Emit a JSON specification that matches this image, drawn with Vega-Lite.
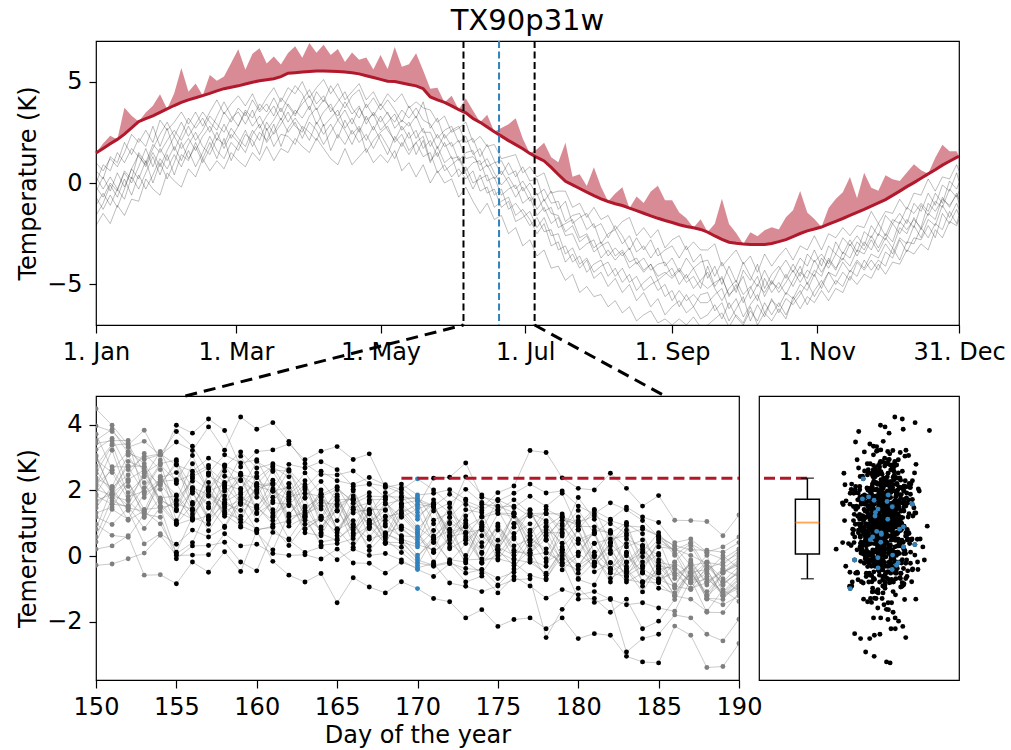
{
"$schema":"https://vega.github.io/schema/vega-lite/v6.json",
"background":"white",
"padding":{"left":16,"top":6,"right":0,"bottom":0},
"config":{
"font":"DejaVu Sans",
"view":{"stroke":"black","strokeWidth":1.2},
"axis":{"domain":false,"grid":false,"tickColor":"black","tickWidth":1.2,"labelFont":"DejaVu Sans","labelFontSize":24,"labelColor":"black","labelPadding":7,"labelFlush":false,"labelOverlap":false,"titleFont":"DejaVu Sans","titleFontSize":24,"titleFontWeight":"normal","titleColor":"black"},
"axisX":{"tickSize":8,"titlePadding":4},
"axisY":{"tickSize":7,"titlePadding":6}
},
"datasets":{
"top":[
{"day":0,"T":1.48,"H":1.48,"a":1.0,"b":-0.4,"c":0.3,"d":-1.1,"e":0.0,"f":-1.6,"g":0.6,"h":-0.7,"i":-2.1,"j":-0.2},
{"day":3,"T":1.70,"H":1.95,"a":0.6,"b":0.3,"c":-0.3,"d":-0.5,"e":0.9,"f":-1.0,"g":0.2,"h":-1.3,"i":-1.5,"j":-0.7},
{"day":6,"T":1.93,"H":2.33,"a":1.2,"b":-0.4,"c":0.3,"d":-1.1,"e":0.6,"f":-0.1,"g":1.3,"h":-0.6,"i":-2.0,"j":0.0},
{"day":9,"T":2.15,"H":2.15,"a":0.8,"b":0.5,"c":-0.3,"d":-0.3,"e":1.5,"f":-0.7,"g":1.0,"h":-1.2,"i":-1.1,"j":-0.4},
{"day":12,"T":2.41,"H":3.71,"a":1.5,"b":-0.2,"c":0.5,"d":-0.8,"e":1.0,"f":0.2,"g":2.0,"h":-0.3,"i":-1.6,"j":0.6},
{"day":15,"T":2.72,"H":3.32,"a":2.4,"b":0.7,"c":0.0,"d":0.3,"e":1.7,"f":-0.6,"g":1.4,"h":0.7,"i":-0.8,"j":0.2},
{"day":18,"T":3.03,"H":3.03,"a":2.0,"b":1.4,"c":0.8,"d":-0.3,"e":1.3,"f":0.4,"g":2.2,"h":0.2,"i":-0.9,"j":1.5},
{"day":21,"T":3.17,"H":3.47,"a":2.6,"b":0.8,"c":1.7,"d":0.5,"e":0.9,"f":-0.3,"g":1.8,"h":1.1,"i":0.2,"j":1.0},
{"day":24,"T":3.31,"H":3.81,"a":2.0,"b":1.5,"c":0.8,"d":1.3,"e":1.7,"f":0.4,"g":2.8,"h":0.0,"i":-0.3,"j":1.9},
{"day":27,"T":3.48,"H":4.38,"a":3.1,"b":0.8,"c":1.7,"d":0.4,"e":2.4,"f":1.2,"g":1.8,"h":1.0,"i":-0.6,"j":1.5},
{"day":30,"T":3.65,"H":3.65,"a":2.6,"b":1.6,"c":1.1,"d":1.4,"e":3.0,"f":0.7,"g":2.7,"h":0.2,"i":0.5,"j":2.1},
{"day":33,"T":3.82,"H":4.42,"a":3.0,"b":2.3,"c":1.8,"d":0.4,"e":2.3,"f":1.4,"g":1.6,"h":1.0,"i":0.1,"j":2.6},
{"day":36,"T":3.97,"H":5.67,"a":3.5,"b":1.7,"c":1.1,"d":1.4,"e":3.0,"f":0.8,"g":2.4,"h":2.0,"i":-0.2,"j":2.1},
{"day":39,"T":4.10,"H":4.50,"a":2.9,"b":2.2,"c":1.9,"d":1.1,"e":2.3,"f":1.6,"g":3.2,"h":1.2,"i":0.7,"j":2.8},
{"day":42,"T":4.20,"H":4.90,"a":3.5,"b":1.6,"c":2.5,"d":2.0,"e":2.9,"f":0.8,"g":2.7,"h":1.8,"i":0.3,"j":2.1},
{"day":45,"T":4.31,"H":4.31,"a":2.8,"b":2.3,"c":1.8,"d":1.2,"e":3.5,"f":1.5,"g":3.2,"h":1.0,"i":1.2,"j":2.6},
{"day":48,"T":4.42,"H":5.32,"a":3.5,"b":2.8,"c":1.4,"d":2.0,"e":3.0,"f":2.3,"g":2.5,"h":1.7,"i":0.6,"j":3.3},
{"day":51,"T":4.54,"H":5.04,"a":4.1,"b":2.1,"c":2.2,"d":1.2,"e":2.6,"f":1.6,"g":3.3,"h":2.5,"i":1.1,"j":2.9},
{"day":54,"T":4.65,"H":5.25,"a":3.4,"b":2.9,"c":1.9,"d":2.2,"e":3.5,"f":1.2,"g":4.0,"h":1.7,"i":0.7,"j":2.5},
{"day":57,"T":4.72,"H":5.92,"a":3.9,"b":2.2,"c":2.7,"d":1.1,"e":3.0,"f":2.0,"g":3.3,"h":2.4,"i":1.5,"j":3.2},
{"day":60,"T":4.79,"H":6.59,"a":4.3,"b":2.8,"c":2.2,"d":1.9,"e":3.7,"f":1.6,"g":2.8,"h":2.0,"i":1.1,"j":3.5},
{"day":63,"T":4.88,"H":5.58,"a":3.8,"b":3.5,"c":1.8,"d":2.6,"e":3.3,"f":2.4,"g":3.6,"h":1.5,"i":0.8,"j":2.9},
{"day":66,"T":4.97,"H":6.37,"a":4.4,"b":2.8,"c":2.6,"d":1.8,"e":4.1,"f":2.1,"g":3.2,"h":2.4,"i":1.5,"j":3.6},
{"day":69,"T":5.04,"H":6.64,"a":3.6,"b":3.3,"c":2.1,"d":2.5,"e":3.5,"f":1.4,"g":3.9,"h":2.9,"i":1.1,"j":2.7},
{"day":72,"T":5.09,"H":5.89,"a":4.2,"b":2.6,"c":3.0,"d":2.1,"e":3.9,"f":2.7,"g":3.5,"h":2.0,"i":1.8,"j":3.3},
{"day":75,"T":5.14,"H":6.24,"a":4.7,"b":3.1,"c":2.4,"d":2.9,"e":3.3,"f":1.8,"g":4.2,"h":2.5,"i":1.1,"j":3.8},
{"day":78,"T":5.24,"H":5.84,"a":4.0,"b":3.7,"c":2.9,"d":1.8,"e":4.2,"f":2.4,"g":3.5,"h":3.2,"i":1.7,"j":3.1},
{"day":81,"T":5.41,"H":6.41,"a":4.7,"b":3.0,"c":3.5,"d":2.7,"e":3.8,"f":2.3,"g":4.2,"h":2.5,"i":1.5,"j":3.9},
{"day":84,"T":5.44,"H":6.74,"a":4.4,"b":3.6,"c":2.8,"d":3.2,"e":3.3,"f":1.9,"g":4.8,"h":3.0,"i":2.2,"j":3.4},
{"day":87,"T":5.47,"H":6.17,"a":5.0,"b":3.2,"c":2.5,"d":2.7,"e":4.1,"f":2.8,"g":4.4,"h":2.2,"i":1.8,"j":3.9},
{"day":90,"T":5.50,"H":6.90,"a":4.2,"b":3.8,"c":3.3,"d":2.1,"e":4.6,"f":2.5,"g":3.6,"h":3.0,"i":1.5,"j":4.3},
{"day":93,"T":5.52,"H":6.42,"a":4.7,"b":2.9,"c":3.7,"d":3.0,"e":3.9,"f":2.1,"g":4.5,"h":2.6,"i":2.2,"j":3.6},
{"day":96,"T":5.52,"H":6.82,"a":5.1,"b":3.5,"c":2.8,"d":2.4,"e":4.3,"f":2.9,"g":4.0,"h":1.9,"i":1.7,"j":4.1},
{"day":99,"T":5.51,"H":6.31,"a":4.4,"b":3.9,"c":3.2,"d":2.9,"e":3.5,"f":1.6,"g":4.8,"h":2.5,"i":1.2,"j":3.7},
{"day":102,"T":5.50,"H":6.60,"a":4.9,"b":3.1,"c":3.6,"d":2.2,"e":4.0,"f":2.4,"g":4.2,"h":3.1,"i":0.9,"j":3.3},
{"day":105,"T":5.47,"H":5.97,"a":4.1,"b":3.6,"c":2.7,"d":3.1,"e":4.5,"f":1.9,"g":3.7,"h":2.6,"i":1.7,"j":4.0},
{"day":108,"T":5.43,"H":6.43,"a":4.5,"b":2.9,"c":3.2,"d":2.4,"e":3.7,"f":2.6,"g":4.3,"h":1.9,"i":0.9,"j":3.4},
{"day":111,"T":5.38,"H":6.08,"a":4.9,"b":3.7,"c":2.5,"d":2.8,"e":3.2,"f":2.0,"g":4.6,"h":2.7,"i":1.3,"j":3.8},
{"day":114,"T":5.29,"H":6.19,"a":4.1,"b":3.1,"c":3.3,"d":2.1,"e":3.9,"f":2.4,"g":3.7,"h":1.5,"i":1.7,"j":2.9},
{"day":117,"T":5.20,"H":5.60,"a":4.5,"b":3.4,"c":2.6,"d":2.8,"e":3.3,"f":1.7,"g":4.2,"h":2.1,"i":1.0,"j":3.5},
{"day":120,"T":5.11,"H":6.31,"a":3.8,"b":2.6,"c":3.3,"d":2.1,"e":3.9,"f":2.4,"g":3.6,"h":2.5,"i":1.4,"j":3.0},
{"day":123,"T":5.02,"H":5.62,"a":4.4,"b":3.0,"c":2.6,"d":1.4,"e":3.4,"f":1.8,"g":4.1,"h":2.8,"i":1.0,"j":3.5},
{"day":126,"T":5.00,"H":6.70,"a":4.0,"b":3.4,"c":2.1,"d":2.3,"e":3.0,"f":1.2,"g":3.6,"h":2.0,"i":1.6,"j":2.7},
{"day":129,"T":4.93,"H":5.73,"a":4.4,"b":2.6,"c":2.8,"d":1.8,"e":3.6,"f":2.0,"g":3.0,"h":2.4,"i":0.6,"j":3.1},
{"day":132,"T":4.86,"H":5.86,"a":3.7,"b":3.0,"c":2.2,"d":2.5,"e":3.2,"f":1.4,"g":3.8,"h":1.6,"i":1.0,"j":2.8},
{"day":135,"T":4.79,"H":6.39,"a":4.0,"b":2.2,"c":2.6,"d":1.4,"e":3.7,"f":2.0,"g":3.2,"h":2.0,"i":0.3,"j":3.3},
{"day":138,"T":4.65,"H":5.55,"a":3.7,"b":2.7,"c":1.7,"d":2.1,"e":3.1,"f":1.3,"g":4.0,"h":2.3,"i":0.9,"j":2.5},
{"day":141,"T":4.24,"H":4.64,"a":3.6,"b":1.8,"c":2.1,"d":1.0,"e":2.9,"f":1.5,"g":2.7,"h":1.1,"i":0.0,"j":2.5},
{"day":144,"T":4.10,"H":4.70,"a":3.0,"b":2.4,"c":1.3,"d":1.8,"e":2.2,"f":0.5,"g":3.2,"h":1.5,"i":0.6,"j":1.7},
{"day":147,"T":3.97,"H":3.97,"a":3.3,"b":1.8,"c":2.0,"d":1.0,"e":2.6,"f":0.9,"g":2.2,"h":0.6,"i":0.0,"j":2.4},
{"day":150,"T":3.80,"H":4.30,"a":2.5,"b":2.0,"c":1.2,"d":1.3,"e":2.8,"f":0.3,"g":2.6,"h":0.9,"i":0.2,"j":1.8},
{"day":153,"T":3.62,"H":3.62,"a":2.7,"b":1.1,"c":1.3,"d":0.3,"e":2.0,"f":0.7,"g":2.8,"h":1.2,"i":-0.7,"j":2.1},
{"day":156,"T":3.46,"H":4.16,"a":3.0,"b":1.5,"c":0.6,"d":0.8,"e":2.3,"f":0.2,"g":2.0,"h":0.5,"i":-0.2,"j":1.2},
{"day":159,"T":3.18,"H":3.58,"a":2.0,"b":1.6,"c":1.0,"d":0.0,"e":1.4,"f":0.6,"g":2.2,"h":-0.3,"i":-0.9,"j":1.3},
{"day":162,"T":2.99,"H":2.99,"a":2.3,"b":0.6,"c":1.1,"d":0.2,"e":1.7,"f":-0.4,"g":1.3,"h":0.4,"i":-1.5,"j":0.9},
{"day":165,"T":2.76,"H":3.36,"a":1.8,"b":0.9,"c":0.1,"d":0.4,"e":0.8,"f":-0.2,"g":1.9,"h":-0.5,"i":-1.0,"j":1.2},
{"day":168,"T":2.53,"H":2.53,"a":1.9,"b":0.2,"c":0.3,"d":-0.6,"e":1.0,"f":-1.2,"g":1.1,"h":-0.3,"i":-1.8,"j":0.5},
{"day":171,"T":2.31,"H":2.71,"a":1.2,"b":0.6,"c":-0.6,"d":-0.3,"e":1.1,"f":-0.9,"g":0.4,"h":-1.2,"i":-1.6,"j":-0.1},
{"day":174,"T":2.09,"H":2.89,"a":1.3,"b":0.0,"c":-0.3,"d":-1.3,"e":0.4,"f":-0.7,"g":1.0,"h":-0.9,"i":-2.5,"j":0.3},
{"day":177,"T":1.89,"H":3.19,"a":1.4,"b":-0.7,"c":-0.1,"d":-1.0,"e":0.6,"f":-1.6,"g":0.3,"h":-1.9,"i":-2.2,"j":-0.3},
{"day":180,"T":1.69,"H":2.19,"a":0.5,"b":-0.2,"c":-1.0,"d":-1.5,"e":-0.4,"f":-1.3,"g":0.8,"h":-1.7,"i":-3.1,"j":0.1},
{"day":183,"T":1.46,"H":1.46,"a":0.8,"b":-0.9,"c":-0.7,"d":-2.1,"e":0.0,"f":-1.8,"g":0.1,"h":-1.4,"i":-2.8,"j":-0.5},
{"day":186,"T":1.26,"H":1.66,"a":0.3,"b":-0.5,"c":-1.6,"d":-1.7,"e":-0.6,"f":-2.5,"g":0.2,"h":-2.2,"i":-3.6,"j":-1.3},
{"day":189,"T":1.09,"H":1.99,"a":0.5,"b":-1.4,"c":-1.2,"d":-2.4,"e":-0.3,"f":-2.0,"g":-0.9,"h":-1.7,"i":-3.3,"j":-0.8},
{"day":192,"T":0.77,"H":1.27,"a":-0.5,"b":-1.2,"c":-2.0,"d":-2.3,"e":-1.0,"f":-3.1,"g":-0.4,"h":-2.6,"i":-4.2,"j":-1.5},
{"day":195,"T":0.42,"H":1.02,"a":-0.4,"b":-2.2,"c":-1.7,"d":-3.3,"e":-0.9,"f":-2.9,"g":-1.3,"h":-2.5,"i":-4.1,"j":-1.6},
{"day":198,"T":0.08,"H":1.98,"a":-0.4,"b":-2.0,"c":-2.6,"d":-3.1,"e":-1.9,"f":-3.9,"g":-0.9,"h":-3.5,"i":-4.8,"j":-2.4},
{"day":201,"T":-0.09,"H":0.31,"a":-1.2,"b":-1.8,"c":-2.5,"d":-3.9,"e":-1.6,"f":-3.5,"g":-2.0,"h":-3.2,"i":-4.5,"j":-2.1},
{"day":204,"T":-0.27,"H":0.43,"a":-1.0,"b":-2.7,"c":-3.3,"d":-3.6,"e":-1.5,"f":-4.2,"g":-1.7,"h":-4.0,"i":-5.4,"j":-2.9},
{"day":207,"T":-0.45,"H":-0.15,"a":-1.7,"b":-2.5,"c":-3.0,"d":-4.4,"e":-2.3,"f":-3.8,"g":-1.5,"h":-3.7,"i":-5.1,"j":-2.6},
{"day":210,"T":-0.62,"H":0.78,"a":-1.2,"b":-3.2,"c":-2.8,"d":-4.0,"e":-2.0,"f":-4.7,"g":-2.2,"h":-4.4,"i":-5.6,"j":-3.4},
{"day":213,"T":-0.78,"H":-0.18,"a":-1.8,"b":-2.9,"c":-3.7,"d":-3.8,"e":-3.0,"f":-4.4,"g":-2.0,"h":-4.1,"i":-5.5,"j":-3.1},
{"day":216,"T":-0.91,"H":-0.91,"a":-1.6,"b":-3.6,"c":-3.3,"d":-4.6,"e":-2.5,"f":-5.1,"g":-2.7,"h":-3.9,"i":-6.1,"j":-2.9},
{"day":219,"T":-1.02,"H":-0.52,"a":-2.3,"b":-3.2,"c":-3.8,"d":-4.2,"e":-2.3,"f":-4.7,"g":-2.1,"h":-4.6,"i":-5.8,"j":-3.6},
{"day":222,"T":-1.11,"H":-0.21,"a":-1.9,"b":-3.6,"c":-3.4,"d":-4.9,"e":-3.0,"f":-5.4,"g":-2.6,"h":-4.2,"i":-6.4,"j":-3.3},
{"day":225,"T":-1.24,"H":-1.24,"a":-1.7,"b":-3.2,"c":-4.2,"d":-4.5,"e":-2.6,"f":-5.0,"g":-3.3,"h":-4.9,"i":-6.1,"j":-3.9},
{"day":228,"T":-1.36,"H":-0.66,"a":-2.6,"b":-4.0,"c":-3.9,"d":-5.3,"e":-3.4,"f":-5.8,"g":-2.7,"h":-4.6,"i":-6.8,"j":-3.7},
{"day":231,"T":-1.49,"H":-0.99,"a":-2.2,"b":-3.7,"c":-4.4,"d":-4.9,"e":-3.1,"f":-5.4,"g":-3.3,"h":-5.3,"i":-6.5,"j":-4.3},
{"day":234,"T":-1.62,"H":-0.42,"a":-2.7,"b":-4.3,"c":-4.0,"d":-4.6,"e":-3.7,"f":-6.1,"g":-2.8,"h":-5.0,"i":-6.3,"j":-4.0},
{"day":237,"T":-1.74,"H":-0.14,"a":-2.3,"b":-4.0,"c":-4.8,"d":-5.3,"e":-3.2,"f":-5.7,"g":-3.6,"h":-4.8,"i":-6.9,"j":-4.6},
{"day":240,"T":-1.85,"H":-0.85,"a":-3.2,"b":-3.9,"c":-4.5,"d":-5.0,"e":-4.1,"f":-6.5,"g":-3.3,"h":-5.6,"i":-6.7,"j":-4.4},
{"day":243,"T":-1.95,"H":-0.85,"a":-2.8,"b":-4.6,"c":-4.2,"d":-5.8,"e":-3.7,"f":-6.1,"g":-3.1,"h":-5.3,"i":-7.0,"j":-4.7},
{"day":246,"T":-2.06,"H":-1.46,"a":-2.6,"b":-4.2,"c":-5.0,"d":-5.3,"e":-4.4,"f":-5.8,"g":-3.7,"h":-6.1,"i":-6.7,"j":-4.3},
{"day":249,"T":-2.14,"H":-1.74,"a":-3.3,"b":-4.7,"c":-4.5,"d":-5.8,"e":-3.7,"f":-6.4,"g":-3.1,"h":-5.5,"i":-7.0,"j":-4.9},
{"day":252,"T":-2.21,"H":-2.21,"a":-2.9,"b":-4.2,"c":-5.2,"d":-5.5,"e":-4.2,"f":-6.1,"g":-3.9,"h":-6.1,"i":-6.6,"j":-4.6},
{"day":255,"T":-2.29,"H":-1.79,"a":-3.3,"b":-4.9,"c":-4.8,"d":-5.9,"e":-3.9,"f":-6.7,"g":-3.5,"h":-5.5,"i":-7.1,"j":-5.2},
{"day":258,"T":-2.42,"H":-2.42,"a":-3.3,"b":-5.2,"c":-4.4,"d":-5.9,"e":-3.8,"f":-6.5,"g":-4.7,"h":-5.4,"i":-7.0,"j":-4.1},
{"day":261,"T":-2.61,"H":-2.01,"a":-3.0,"b":-4.9,"c":-5.2,"d":-5.5,"e":-4.6,"f":-6.0,"g":-4.1,"h":-6.3,"i":-6.7,"j":-5.1},
{"day":264,"T":-2.78,"H":-0.78,"a":-4.1,"b":-4.7,"c":-5.8,"d":-5.2,"e":-3.9,"f":-6.7,"g":-5.0,"h":-5.9,"i":-6.4,"j":-4.6},
{"day":267,"T":-2.92,"H":-2.02,"a":-3.7,"b":-5.5,"c":-5.2,"d":-6.2,"e":-4.6,"f":-5.9,"g":-4.1,"h":-6.8,"i":-7.1,"j":-5.6},
{"day":270,"T":-2.97,"H":-2.47,"a":-3.3,"b":-5.2,"c":-4.8,"d":-5.7,"e":-5.4,"f":-6.6,"g":-4.9,"h":-6.2,"i":-6.5,"j":-5.0},
{"day":273,"T":-3.01,"H":-3.01,"a":-4.0,"b":-4.6,"c":-5.5,"d":-6.6,"e":-4.3,"f":-7.0,"g":-3.9,"h":-5.6,"i":-6.9,"j":-5.9},
{"day":276,"T":-3.03,"H":-2.43,"a":-3.6,"b":-5.7,"c":-5.1,"d":-6.0,"e":-4.8,"f":-6.3,"g":-4.6,"h":-6.8,"i":-6.1,"j":-5.2},
{"day":279,"T":-3.03,"H":-2.63,"a":-4.4,"b":-5.0,"c":-5.8,"d":-5.5,"e":-4.0,"f":-6.8,"g":-5.1,"h":-6.0,"i":-7.0,"j":-4.6},
{"day":282,"T":-3.03,"H":-2.33,"a":-3.5,"b":-5.4,"c":-4.7,"d":-6.4,"e":-5.2,"f":-5.9,"g":-4.3,"h":-6.6,"i":-6.4,"j":-5.6},
{"day":285,"T":-2.98,"H":-2.18,"a":-4.1,"b":-4.8,"c":-5.4,"d":-5.8,"e":-4.5,"f":-6.5,"g":-5.0,"h":-5.7,"i":-6.8,"j":-4.9},
{"day":288,"T":-2.89,"H":-2.29,"a":-3.6,"b":-5.4,"c":-4.9,"d":-6.1,"e":-4.1,"f":-5.9,"g":-4.3,"h":-6.4,"i":-6.2,"j":-5.2},
{"day":291,"T":-2.79,"H":-1.69,"a":-3.2,"b":-4.9,"c":-5.5,"d":-5.4,"e":-4.7,"f":-6.5,"g":-3.8,"h":-5.7,"i":-6.7,"j":-4.5},
{"day":294,"T":-2.64,"H":-1.34,"a":-3.8,"b":-4.3,"c":-4.8,"d":-5.7,"e":-4.0,"f":-5.8,"g":-4.4,"h":-6.0,"i":-5.6,"j":-5.1},
{"day":297,"T":-2.49,"H":-0.39,"a":-3.1,"b":-4.9,"c":-4.1,"d":-5.0,"e":-4.6,"f":-5.3,"g":-3.7,"h":-5.5,"i":-6.2,"j":-4.4},
{"day":300,"T":-2.36,"H":-1.46,"a":-3.3,"b":-4.3,"c":-5.0,"d":-5.3,"e":-3.5,"f":-6.0,"g":-4.1,"h":-4.9,"i":-5.6,"j":-4.7},
{"day":303,"T":-2.27,"H":-1.77,"a":-2.6,"b":-4.6,"c":-4.3,"d":-4.5,"e":-3.9,"f":-5.3,"g":-3.3,"h":-5.6,"i":-5.9,"j":-3.8},
{"day":306,"T":-2.17,"H":-2.17,"a":-3.3,"b":-3.7,"c":-4.6,"d":-5.2,"e":-3.5,"f":-4.8,"g":-4.1,"h":-5.0,"i":-5.3,"j":-4.4},
{"day":309,"T":-2.03,"H":-1.23,"a":-2.5,"b":-4.2,"c":-3.7,"d":-4.4,"e":-4.0,"f":-5.4,"g":-3.1,"h":-4.4,"i":-5.8,"j":-3.8},
{"day":312,"T":-1.89,"H":-0.79,"a":-2.7,"b":-3.5,"c":-4.2,"d":-4.6,"e":-2.9,"f":-4.8,"g":-3.5,"h":-5.0,"i":-5.2,"j":-4.3},
{"day":315,"T":-1.75,"H":-0.45,"a":-2.2,"b":-3.8,"c":-3.7,"d":-3.9,"e":-3.5,"f":-5.1,"g":-2.7,"h":-4.4,"i":-5.4,"j":-3.4},
{"day":318,"T":-1.60,"H":0.30,"a":-2.6,"b":-3.0,"c":-4.1,"d":-4.4,"e":-2.8,"f":-4.3,"g":-3.1,"h":-4.8,"i":-4.6,"j":-3.7},
{"day":321,"T":-1.45,"H":-0.75,"a":-2.1,"b":-3.6,"c":-3.3,"d":-3.8,"e":-3.4,"f":-4.6,"g":-2.6,"h":-3.9,"i":-5.0,"j":-2.9},
{"day":324,"T":-1.30,"H":0.50,"a":-2.2,"b":-2.9,"c":-3.5,"d":-4.2,"e":-2.4,"f":-3.8,"g":-3.1,"h":-4.3,"i":-4.5,"j":-3.3},
{"day":327,"T":-1.14,"H":-0.24,"a":-1.4,"b":-3.3,"c":-2.8,"d":-3.5,"e":-2.7,"f":-4.3,"g":-2.1,"h":-3.8,"i":-4.7,"j":-2.6},
{"day":330,"T":-0.98,"H":-0.38,"a":-2.0,"b":-2.5,"c":-3.4,"d":-3.7,"e":-2.0,"f":-3.8,"g":-2.6,"h":-4.3,"i":-4.0,"j":-3.2},
{"day":333,"T":-0.82,"H":0.38,"a":-1.4,"b":-2.8,"c":-2.7,"d":-3.0,"e":-2.6,"f":-4.1,"g":-1.6,"h":-3.4,"i":-4.5,"j":-2.5},
{"day":336,"T":-0.61,"H":0.19,"a":-1.5,"b":-2.0,"c":-3.2,"d":-3.5,"e":-1.8,"f":-3.2,"g":-2.0,"h":-3.7,"i":-3.9,"j":-2.9},
{"day":339,"T":-0.40,"H":0.10,"a":-0.8,"b":-2.5,"c":-2.2,"d":-2.7,"e":-2.0,"f":-3.8,"g":-1.5,"h":-2.8,"i":-4.0,"j":-1.9},
{"day":342,"T":-0.18,"H":0.52,"a":-1.3,"b":-1.8,"c":-2.5,"d":-3.0,"e":-1.2,"f":-2.9,"g":-2.0,"h":-3.4,"i":-3.3,"j":-2.3},
{"day":345,"T":0.02,"H":0.92,"a":-0.5,"b":-2.2,"c":-1.7,"d":-2.1,"e":-1.5,"f":-3.0,"g":-1.0,"h":-2.7,"i":-3.5,"j":-1.8},
{"day":348,"T":0.23,"H":0.63,"a":-0.6,"b":-1.1,"c":-2.3,"d":-2.7,"e":-1.0,"f":-2.2,"g":-1.4,"h":-2.8,"i":-3.0,"j":-2.2},
{"day":351,"T":0.45,"H":0.45,"a":0.2,"b":-1.6,"c":-1.5,"d":-1.8,"e":-1.4,"f":-2.7,"g":-0.5,"h":-2.1,"i":-3.3,"j":-1.0},
{"day":354,"T":0.65,"H":1.25,"a":-0.4,"b":-0.9,"c":-1.8,"d":-2.1,"e":-0.5,"f":-2.0,"g":-1.1,"h":-2.7,"i":-2.3,"j":-1.4},
{"day":357,"T":0.88,"H":1.88,"a":0.3,"b":-1.2,"c":-0.7,"d":-1.1,"e":-1.0,"f":-2.3,"g":-0.1,"h":-1.5,"i":-2.7,"j":-0.8},
{"day":360,"T":1.07,"H":1.57,"a":0.2,"b":-0.3,"c":-1.2,"d":-1.7,"e":0.1,"f":-1.4,"g":-0.4,"h":-2.0,"i":-1.9,"j":-1.1},
{"day":363,"T":1.26,"H":1.56,"a":0.9,"b":-0.7,"c":-0.5,"d":-1.0,"e":-0.3,"f":-2.0,"g":0.5,"h":-1.3,"i":-2.1,"j":-0.6},
{"day":364,"T":1.31,"H":1.31,"a":0.6,"b":-0.4,"c":-0.8,"d":-1.3,"e":0.0,"f":-1.6,"g":0.1,"h":-1.6,"i":-1.8,"j":-1.0}
],
"bot":[
{"day":150,"a":4.48,"b":3.71,"c":3.43,"d":3.06,"e":2.74,"f":2.38,"g":2.12,"h":1.83,"i":1.47,"j":1.19,"k":0.82,"l":0.21,"m":3.96,"n":2.93,"o":2.52,"p":2.04,"q":1.58,"r":0.97,"s":3.24,"t":2.61,"u":2.17,"v":1.69,"w":0.58,"x":-0.28,"y":3.52,"z":1.31,"A":3.02,"B":1.88,"C":2.29,"D":0.43},
{"day":151,"a":3.98,"b":2.63,"c":3.51,"d":1.87,"e":3.41,"f":2.09,"g":3.22,"h":1.58,"i":2.12,"j":0.96,"k":2.07,"l":0.31,"m":3.79,"n":2.54,"o":3.37,"p":1.83,"q":2.02,"r":0.63,"s":3.58,"t":1.91,"u":2.61,"v":1.88,"w":1.76,"x":-0.24,"y":3.86,"z":1.49,"A":1.93,"B":2.72,"C":1.68,"D":1.42},
{"day":152,"a":3.38,"b":1.93,"c":3.52,"d":2.88,"e":2.12,"f":2.47,"g":1.81,"h":1.52,"i":3.07,"j":1.46,"k":1.39,"l":0.62,"m":3.31,"n":1.73,"o":3.42,"p":1.68,"q":2.74,"r":0.57,"s":2.63,"t":2.29,"u":3.18,"v":1.09,"w":2.33,"x":-0.08,"y":3.13,"z":2.26,"A":1.54,"B":2.71,"C":1.47,"D":1.12},
{"day":153,"a":3.83,"b":2.41,"c":1.78,"d":2.69,"e":1.31,"f":3.12,"g":1.97,"h":0.84,"i":2.23,"j":2.08,"k":0.37,"l":-0.58,"m":3.49,"n":2.44,"o":2.52,"p":1.21,"q":2.73,"r":1.28,"s":3.02,"t":1.17,"u":2.81,"v":1.38,"w":2.62,"x":0.09,"y":2.94,"z":1.42,"A":2.58,"B":1.93,"C":1.36,"D":1.89},
{"day":154,"a":2.92,"b":3.18,"c":2.27,"d":1.52,"e":2.19,"f":2.63,"g":2.77,"h":1.48,"i":1.36,"j":2.81,"k":0.68,"l":-0.57,"m":3.07,"n":1.71,"o":2.83,"p":2.39,"q":1.62,"r":1.18,"s":3.11,"t":1.77,"u":2.03,"v":2.42,"w":2.16,"x":0.63,"y":3.09,"z":1.47,"A":1.72,"B":2.34,"C":0.98,"D":2.21},
{"day":155,"a":3.98,"b":2.21,"c":2.32,"d":0.98,"e":2.79,"f":1.08,"g":2.27,"h":0.07,"i":1.71,"j":2.93,"k":0.36,"l":-0.84,"m":3.47,"n":1.41,"o":1.38,"p":2.54,"q":1.02,"r":-0.08,"s":2.77,"t":1.83,"u":0.96,"v":1.68,"w":2.88,"x":0.02,"y":3.79,"z":1.59,"A":1.43,"B":1.86,"C":0.12,"D":1.53},
{"day":156,"a":3.74,"b":1.38,"c":3.06,"d":1.57,"e":1.43,"f":2.02,"g":2.49,"h":0.41,"i":2.28,"j":1.63,"k":0.79,"l":-0.18,"m":3.21,"n":2.37,"o":1.12,"p":1.91,"q":2.08,"r":0.31,"s":2.58,"t":1.09,"u":1.13,"v":2.81,"w":2.07,"x":0.03,"y":3.34,"z":1.42,"A":1.97,"B":1.28,"C":1.19,"D":2.41},
{"day":157,"a":4.17,"b":2.03,"c":1.98,"d":0.77,"e":2.52,"f":1.61,"g":2.76,"h":1.46,"i":1.12,"j":2.09,"k":0.58,"l":-0.49,"m":3.93,"n":2.01,"o":2.24,"p":1.18,"q":1.87,"r":0.32,"s":2.98,"t":1.23,"u":2.02,"v":1.97,"w":1.51,"x":0.04,"y":2.53,"z":2.46,"A":1.08,"B":1.82,"C":0.97,"D":2.68},
{"day":158,"a":3.82,"b":2.76,"c":1.21,"d":1.52,"e":1.83,"f":2.77,"g":1.64,"h":2.11,"i":1.58,"j":1.32,"k":0.87,"l":0.13,"m":3.22,"n":2.58,"o":1.47,"p":2.43,"q":1.61,"r":0.42,"s":2.71,"t":1.98,"u":1.27,"v":2.19,"w":0.91,"x":0.68,"y":3.08,"z":2.13,"A":2.06,"B":1.37,"C":1.72,"D":2.24},
{"day":159,"a":2.71,"b":2.48,"c":1.87,"d":1.03,"e":2.52,"f":2.06,"g":1.93,"h":0.88,"i":2.47,"j":1.12,"k":1.63,"l":-0.47,"m":4.23,"n":1.59,"o":1.71,"p":2.32,"q":1.39,"r":-0.18,"s":3.17,"t":2.29,"u":0.92,"v":2.01,"w":1.78,"x":0.31,"y":2.83,"z":1.62,"A":3.04,"B":1.57,"C":1.21,"D":2.46},
{"day":160,"a":3.18,"b":1.32,"c":2.21,"d":2.17,"e":1.79,"f":2.53,"g":1.09,"h":1.52,"i":2.38,"j":0.82,"k":1.43,"l":0.77,"m":3.86,"n":2.42,"o":1.29,"p":1.48,"q":2.12,"r":-0.45,"s":2.68,"t":1.92,"u":0.71,"v":2.88,"w":1.53,"x":0.36,"y":2.93,"z":2.02,"A":2.19,"B":0.78,"C":1.98,"D":2.12},
{"day":161,"a":3.23,"b":1.97,"c":1.18,"d":2.21,"e":2.62,"f":1.31,"g":1.68,"h":0.96,"i":2.74,"j":0.87,"k":2.31,"l":-0.16,"m":4.06,"n":1.79,"o":1.62,"p":1.08,"q":2.17,"r":0.72,"s":2.81,"t":1.23,"u":0.19,"v":2.57,"w":1.98,"x":0.08,"y":2.04,"z":2.23,"A":2.71,"B":0.91,"C":1.41,"D":1.98},
{"day":162,"a":3.41,"b":1.72,"c":2.19,"d":1.02,"e":2.58,"f":1.53,"g":2.21,"h":1.07,"i":1.88,"j":0.32,"k":1.77,"l":-0.58,"m":3.49,"n":2.62,"o":1.58,"p":1.93,"q":0.91,"r":0.49,"s":2.63,"t":1.71,"u":1.28,"v":1.82,"w":1.19,"x":0.02,"y":2.79,"z":1.22,"A":2.41,"B":1.67,"C":0.52,"D":2.09},
{"day":163,"a":2.93,"b":2.18,"c":1.21,"d":1.52,"e":1.79,"f":2.12,"g":0.82,"h":1.38,"i":2.29,"j":0.97,"k":0.71,"l":-0.79,"m":2.81,"n":1.47,"o":1.09,"p":2.53,"q":1.18,"r":0.11,"s":2.07,"t":0.83,"u":1.76,"v":1.91,"w":1.32,"x":0.04,"y":2.68,"z":2.02,"A":1.27,"B":1.16,"C":1.23,"D":1.22},
{"day":164,"a":3.19,"b":1.43,"c":1.88,"d":0.71,"e":2.27,"f":1.21,"g":1.17,"h":1.92,"i":0.89,"j":1.18,"k":0.62,"l":-0.53,"m":2.48,"n":1.79,"o":0.43,"p":1.87,"q":2.01,"r":0.28,"s":2.58,"t":1.13,"u":0.68,"v":1.82,"w":1.68,"x":-0.09,"y":2.87,"z":1.11,"A":1.52,"B":0.81,"C":1.62,"D":0.33},
{"day":165,"a":3.33,"b":1.87,"c":0.82,"d":1.71,"e":1.68,"f":0.62,"g":2.09,"h":0.79,"i":1.38,"j":0.71,"k":1.52,"l":-1.42,"m":2.47,"n":1.39,"o":0.52,"p":2.11,"q":1.08,"r":-0.11,"s":2.29,"t":1.82,"u":0.48,"v":2.02,"w":0.83,"x":0.21,"y":2.63,"z":1.37,"A":0.79,"B":1.77,"C":1.58,"D":0.38},
{"day":166,"a":2.94,"b":0.79,"c":1.48,"d":1.73,"e":0.68,"f":1.72,"g":1.61,"h":1.08,"i":0.71,"j":1.42,"k":0.38,"l":-0.66,"m":2.59,"n":1.83,"o":0.88,"p":1.31,"q":2.03,"r":0.21,"s":2.18,"t":0.62,"u":0.97,"v":1.69,"w":0.27,"x":-0.21,"y":2.12,"z":1.98,"A":1.41,"B":0.92,"C":1.77,"D":0.53},
{"day":167,"a":3.11,"b":1.31,"c":1.62,"d":0.58,"e":1.71,"f":1.09,"g":1.82,"h":0.17,"i":1.38,"j":0.97,"k":0.88,"l":-0.94,"m":2.21,"n":0.83,"o":1.68,"p":1.42,"q":1.07,"r":0.02,"s":2.39,"t":0.91,"u":0.29,"v":1.93,"w":0.98,"x":-0.22,"y":2.18,"z":1.02,"A":1.37,"B":0.51,"C":1.28,"D":1.31},
{"day":168,"a":2.09,"b":1.71,"c":0.62,"d":1.19,"e":1.73,"f":0.58,"g":1.81,"h":0.69,"i":0.41,"j":1.62,"k":0.39,"l":-1.12,"m":2.12,"n":1.58,"o":0.52,"p":1.41,"q":0.71,"r":0.08,"s":2.17,"t":1.21,"u":1.08,"v":0.91,"w":0.38,"x":-0.52,"y":1.79,"z":1.39,"A":0.98,"B":0.68,"C":1.93,"D":0.42},
{"day":169,"a":2.19,"b":0.92,"c":1.58,"d":1.31,"e":0.62,"f":1.38,"g":1.79,"h":0.43,"i":1.21,"j":1.18,"k":0.27,"l":-0.78,"m":1.92,"n":1.71,"o":0.11,"p":1.82,"q":0.88,"r":-0.12,"s":2.02,"t":0.52,"u":1.48,"v":0.59,"w":1.29,"x":-0.19,"y":2.08,"z":0.81,"A":1.52,"B":0.48,"C":1.61,"D":0.41},
{"day":170,"a":1.86,"b":0.66,"c":1.70,"d":1.58,"e":0.58,"f":0.82,"g":1.74,"h":0.28,"i":0.70,"j":1.43,"k":-0.20,"l":-0.99,"m":1.50,"n":1.80,"o":-0.28,"p":1.33,"q":0.42,"r":-0.41,"s":2.35,"t":0.35,"u":1.22,"v":0.03,"w":0.75,"x":-0.36,"y":1.66,"z":0.50,"A":0.89,"B":-0.12,"C":1.12,"D":-0.05},
{"day":171,"a":1.91,"b":1.58,"c":0.52,"d":1.49,"e":0.11,"f":1.37,"g":1.53,"h":0.78,"i":0.12,"j":1.62,"k":-0.31,"l":-1.29,"m":2.37,"n":1.09,"o":0.58,"p":0.41,"q":1.48,"r":-0.62,"s":2.01,"t":0.19,"u":1.57,"v":0.42,"w":-0.18,"x":-0.22,"y":1.52,"z":0.98,"A":0.51,"B":-0.28,"C":1.71,"D":0.61},
{"day":172,"a":2.02,"b":0.61,"c":1.18,"d":0.22,"e":0.57,"f":1.62,"g":0.71,"h":1.48,"i":0.49,"j":0.38,"k":-0.21,"l":-1.39,"m":2.40,"n":1.31,"o":-0.19,"p":0.98,"q":0.82,"r":-0.23,"s":1.59,"t":1.17,"u":0.63,"v":-0.11,"w":0.59,"x":-0.82,"y":1.88,"z":0.28,"A":0.79,"B":-0.17,"C":1.32,"D":1.02},
{"day":173,"a":1.73,"b":-0.21,"c":1.68,"d":0.52,"e":1.41,"f":0.59,"g":0.92,"h":0.48,"i":1.09,"j":0.02,"k":-0.38,"l":-1.88,"m":2.83,"n":0.91,"o":0.38,"p":-0.12,"q":1.22,"r":-0.79,"s":2.03,"t":0.68,"u":0.88,"v":-0.18,"w":0.71,"x":-0.92,"y":1.57,"z":1.01,"A":-0.08,"B":-0.52,"C":2.41,"D":0.72},
{"day":174,"a":0.79,"b":0.62,"c":1.48,"d":-0.18,"e":1.32,"f":1.21,"g":-0.22,"h":0.88,"i":0.41,"j":0.97,"k":-0.42,"l":-1.63,"m":1.79,"n":0.12,"o":0.91,"p":-0.09,"q":1.58,"r":-0.61,"s":1.63,"t":-0.19,"u":1.18,"v":-0.52,"w":0.81,"x":-1.08,"y":1.39,"z":0.29,"A":1.02,"B":-0.41,"C":1.86,"D":0.08},
{"day":175,"a":1.72,"b":0.21,"c":1.93,"d":0.02,"e":0.28,"f":1.41,"g":0.31,"h":0.18,"i":1.29,"j":0.22,"k":-0.68,"l":-2.14,"m":1.68,"n":0.89,"o":-0.12,"p":-0.08,"q":1.52,"r":-1.12,"s":1.38,"t":0.79,"u":1.31,"v":0.19,"w":0.11,"x":-0.91,"y":1.71,"z":0.92,"A":0.48,"B":-0.88,"C":1.49,"D":0.98},
{"day":176,"a":0.98,"b":1.31,"c":2.13,"d":0.69,"e":0.02,"f":0.52,"g":1.28,"h":-0.29,"i":1.21,"j":0.88,"k":-0.49,"l":-1.93,"m":1.91,"n":0.12,"o":0.58,"p":-0.21,"q":1.32,"r":-0.62,"s":1.71,"t":-0.08,"u":1.29,"v":0.99,"w":-0.11,"x":-0.72,"y":1.48,"z":0.31,"A":1.27,"B":-0.39,"C":1.52,"D":0.18},
{"day":177,"a":1.28,"b":0.32,"c":3.21,"d":0.98,"e":0.79,"f":-0.12,"g":0.62,"h":0.18,"i":0.09,"j":1.31,"k":-0.08,"l":-1.88,"m":2.19,"n":0.12,"o":1.39,"p":-0.59,"q":0.42,"r":-0.91,"s":1.29,"t":0.61,"u":0.72,"v":1.41,"w":-0.19,"x":-0.69,"y":1.82,"z":0.51,"A":0.08,"B":0.48,"C":1.21,"D":0.02},
{"day":178,"a":0.62,"b":0.79,"c":3.15,"d":-0.08,"e":1.02,"f":-0.31,"g":1.29,"h":-0.68,"i":0.52,"j":1.08,"k":-0.58,"l":-2.21,"m":1.92,"n":0.88,"o":0.49,"p":-0.72,"q":0.91,"r":-1.28,"s":1.31,"t":0.09,"u":1.42,"v":0.48,"w":-0.52,"x":-2.48,"y":1.51,"z":0.22,"A":0.71,"B":-0.18,"C":1.29,"D":0.11},
{"day":179,"a":1.09,"b":-0.22,"c":2.38,"d":0.61,"e":-0.08,"f":0.92,"g":0.68,"h":0.01,"i":1.19,"j":0.28,"k":0.21,"l":-1.88,"m":1.98,"n":0.39,"o":-0.42,"p":0.18,"q":1.22,"r":-1.02,"s":0.81,"t":0.98,"u":1.18,"v":-0.11,"w":0.19,"x":-1.62,"y":1.91,"z":-0.28,"A":0.71,"B":0.12,"C":1.28,"D":-0.19},
{"day":180,"a":0.98,"b":-0.41,"c":2.06,"d":-0.28,"e":0.81,"f":0.38,"g":1.19,"h":-0.52,"i":1.02,"j":0.79,"k":-0.68,"l":-2.51,"m":1.52,"n":1.08,"o":0.01,"p":-0.71,"q":0.49,"r":-1.18,"s":1.39,"t":0.12,"u":0.91,"v":0.52,"w":-0.29,"x":-0.98,"y":0.82,"z":0.09,"A":1.78,"B":-0.32,"C":0.48,"D":-1.31},
{"day":181,"a":1.42,"b":-0.02,"c":2.01,"d":0.38,"e":-0.19,"f":0.68,"g":-0.21,"h":0.02,"i":1.22,"j":-0.29,"k":-0.18,"l":-2.36,"m":1.29,"n":0.12,"o":0.79,"p":-0.88,"q":0.71,"r":-1.08,"s":0.68,"t":0.72,"u":0.89,"v":-0.48,"w":0.02,"x":-1.41,"y":1.38,"z":-0.31,"A":1.12,"B":0.39,"C":-0.22,"D":-1.29},
{"day":182,"a":0.42,"b":0.78,"c":2.52,"d":-0.38,"e":0.39,"f":-0.52,"g":0.31,"h":-0.79,"i":0.98,"j":0.18,"k":-0.41,"l":-2.41,"m":1.62,"n":-0.38,"o":0.71,"p":0.09,"q":-0.19,"r":-1.32,"s":1.08,"t":-0.48,"u":0.69,"v":-0.21,"w":-0.68,"x":-1.29,"y":1.12,"z":0.72,"A":0.08,"B":0.52,"C":0.41,"D":-1.71},
{"day":183,"a":0.79,"b":-0.31,"c":2.06,"d":0.12,"e":0.98,"f":-0.62,"g":-0.71,"h":0.08,"i":0.69,"j":-0.42,"k":0.52,"l":-3.05,"m":1.41,"n":0.01,"o":-0.48,"p":0.38,"q":-0.52,"r":-1.48,"s":0.92,"t":-0.19,"u":1.02,"v":-0.79,"w":-0.38,"x":-2.92,"y":1.49,"z":0.28,"A":-0.61,"B":0.62,"C":-0.18,"D":-1.31},
{"day":184,"a":-0.02,"b":0.31,"c":1.52,"d":-0.79,"e":0.68,"f":0.12,"g":-0.81,"h":-0.49,"i":0.82,"j":-1.09,"k":0.29,"l":-3.22,"m":1.08,"n":-0.48,"o":0.21,"p":-0.78,"q":-0.18,"r":-1.42,"s":0.88,"t":0.11,"u":-0.29,"v":-0.52,"w":-0.92,"x":-2.51,"y":1.19,"z":0.49,"A":-0.31,"B":-0.38,"C":0.32,"D":-2.21},
{"day":185,"a":0.52,"b":-0.48,"c":1.84,"d":-0.41,"e":-0.38,"f":0.71,"g":-0.52,"h":-0.98,"i":0.62,"j":-0.29,"k":-0.79,"l":-3.25,"m":0.58,"n":0.49,"o":-0.31,"p":-0.81,"q":0.28,"r":-1.58,"s":0.61,"t":-0.69,"u":0.08,"v":-0.78,"w":-0.12,"x":-2.38,"y":1.02,"z":-0.19,"A":0.41,"B":-0.71,"C":0.02,"D":-1.98},
{"day":186,"a":0.18,"b":-1.19,"c":1.09,"d":-0.31,"e":-1.22,"f":0.08,"g":-0.18,"h":-1.12,"i":0.29,"j":-0.88,"k":-0.41,"l":-2.13,"m":0.32,"n":-0.68,"o":-0.38,"p":-1.21,"q":0.22,"r":-1.68,"s":0.02,"t":-0.52,"u":-0.98,"v":-0.19,"w":-0.91,"x":-1.79,"y":0.41,"z":-0.29,"A":0.19,"B":-0.92,"C":-0.59,"D":-1.32},
{"day":187,"a":-0.62,"b":-0.38,"c":1.08,"d":-0.81,"e":-0.49,"f":-0.79,"g":0.31,"h":-0.48,"i":-0.29,"j":-0.12,"k":-1.02,"l":-2.41,"m":0.19,"n":-0.22,"o":-0.78,"p":-1.31,"q":0.02,"r":-0.71,"s":0.38,"t":-0.98,"u":-0.52,"v":-0.58,"w":-0.18,"x":-1.88,"y":0.52,"z":-0.82,"A":0.41,"B":-1.01,"C":-0.28,"D":-0.49},
{"day":188,"a":-0.18,"b":-1.31,"c":1.05,"d":-0.52,"e":-1.19,"f":-0.21,"g":-0.48,"h":-1.28,"i":-0.19,"j":-0.88,"k":-0.62,"l":-3.39,"m":0.18,"n":-0.79,"o":-0.42,"p":-1.68,"q":-0.22,"r":-1.71,"s":0.09,"t":-0.81,"u":0.02,"v":-1.08,"w":-1.29,"x":-2.38,"y":0.12,"z":-0.69,"A":-0.38,"B":-0.31,"C":-1.22,"D":-0.41},
{"day":189,"a":-0.88,"b":-0.49,"c":0.62,"d":-1.18,"e":-0.52,"f":-0.69,"g":0.01,"h":-1.32,"i":-0.28,"j":-0.41,"k":-1.21,"l":-3.36,"m":0.12,"n":-0.48,"o":-1.19,"p":-1.02,"q":-0.88,"r":-1.72,"s":-0.09,"t":-0.38,"u":-1.12,"v":-0.51,"w":-1.48,"x":-2.58,"y":0.28,"z":-1.09,"A":-0.19,"B":-0.81,"C":-0.78,"D":-1.22},
{"day":190,"a":-0.42,"b":-0.12,"c":1.25,"d":-0.88,"e":-0.21,"f":-1.08,"g":-0.38,"h":-0.79,"i":0.18,"j":-0.62,"k":-0.91,"l":-2.66,"m":0.41,"n":-0.28,"o":-0.72,"p":-1.38,"q":-0.48,"r":-1.12,"s":0.22,"t":-0.02,"u":-0.69,"v":-0.18,"w":-1.21,"x":-1.92,"y":0.58,"z":-0.58,"A":0.08,"B":-0.52,"C":-0.31,"D":-0.98}
],
"box":[{"lo":-0.69,"q1":0.06,"md":1.02,"q3":1.73,"hi":2.37}]
},
"bounds":"flush",
"spacing":71,
"vconcat":[
{
"width":863,"height":284,
"title":{"text":"TX90p31w","fontSize":29,"font":"DejaVu Sans","fontWeight":"normal","color":"black","anchor":"middle","offset":4},
"layer":[
{"data":{"name":"top"},"transform":[{"fold":["a","b","c","d","e","f","g","h","i","j"],"as":["m","v"]}],
"mark":{"type":"line","color":"black","opacity":0.38,"strokeWidth":0.7,"clip":true},
"encoding":{
"x":{"field":"day","type":"quantitative","scale":{"domain":[0,364],"nice":false,"zero":false},"axis":{"values":[0,59,120,181,243,304,364],"labelExpr":"datum.value==0?'1. Jan':datum.value==59?'1. Mar':datum.value==120?'1. May':datum.value==181?'1. Jul':datum.value==243?'1. Sep':datum.value==304?'1. Nov':'31. Dec'","title":null}},
"y":{"field":"v","type":"quantitative","scale":{"domain":[-7,7],"nice":false,"zero":false},"axis":{"values":[-5,0,5],"title":"Temperature (K)"}},
"detail":{"field":"m"}}},
{"data":{"name":"top"},"mark":{"type":"area","color":"#b2182b","opacity":0.5,"clip":true},
"encoding":{"x":{"field":"day","type":"quantitative"},"y":{"field":"H","type":"quantitative"},"y2":{"field":"T"}}},
{"data":{"name":"top"},"mark":{"type":"line","color":"#b2182b","strokeWidth":3},
"encoding":{"x":{"field":"day","type":"quantitative"},"y":{"field":"T","type":"quantitative"}}},
{"data":{"values":[{"day":155,"c":"k"},{"day":185,"c":"k"},{"day":170,"c":"b"}]},
"mark":{"type":"rule","strokeDash":[7,3.5],"strokeWidth":2},
"encoding":{"x":{"field":"day","type":"quantitative"},"color":{"field":"c","type":"nominal","scale":{"domain":["k","b"],"range":["black","#3182bd"]},"legend":null}}},
{"data":{"values":[{"s":"L","day":155,"v":-7},{"s":"L","day":37.7,"v":-10.5},{"s":"R","day":185,"v":-7},{"s":"R","day":240,"v":-10.5}]},
"mark":{"type":"line","color":"black","strokeWidth":3,"strokeDash":[12,7],"clip":false},
"encoding":{"x":{"field":"day","type":"quantitative"},"y":{"field":"v","type":"quantitative"},"detail":{"field":"s"}}}
]
},
{
"bounds":"flush",
"spacing":20,
"hconcat":[
{
"width":643,"height":284,
"layer":[
{"data":{"name":"bot"},"transform":[{"fold":["a","b","c","d","e","f","g","h","i","j","k","l","m","n","o","p","q","r","s","t","u","v","w","x","y","z","A","B","C","D"],"as":["m","v"]}],
"mark":{"type":"line","color":"#808080","strokeWidth":0.7,"opacity":0.6,"clip":true},
"encoding":{
"x":{"field":"day","type":"quantitative","scale":{"domain":[150,190],"nice":false,"zero":false},"axis":{"values":[150,155,160,165,170,175,180,185,190],"title":"Day of the year"}},
"y":{"field":"v","type":"quantitative","scale":{"domain":[-3.77,4.87],"nice":false,"zero":false},"axis":{"values":[-2,0,2,4],"title":"Temerature (K)"}},
"detail":{"field":"m"}}},
{"data":{"name":"bot"},"transform":[{"fold":["a","b","c","d","e","f","g","h","i","j","k","l","m","n","o","p","q","r","s","t","u","v","w","x","y","z","A","B","C","D"],"as":["m","v"]}],
"mark":{"type":"point","filled":true,"size":24,"opacity":1,"clip":true},
"encoding":{
"x":{"field":"day","type":"quantitative"},
"y":{"field":"v","type":"quantitative"},
"color":{"condition":[{"test":"datum.day==170","value":"#3182bd"},{"test":"datum.day<155||datum.day>185","value":"#808080"}],"value":"black"}}},
{"data":{"values":[{"d1":169,"d2":190,"p":2.37}]},
"mark":{"type":"rule","color":"#b2182b","strokeWidth":3,"strokeDash":[11,5]},
"encoding":{"x":{"field":"d1","type":"quantitative"},"x2":{"field":"d2"},"y":{"field":"p","type":"quantitative"}}}
]
},
{
"width":200,"height":284,
"layer":[
{"data":{"values":[{"b1":-0.576,"b2":0,"p":2.37}]},
"mark":{"type":"rule","color":"#b2182b","strokeWidth":3,"strokeDash":[11,5]},
"encoding":{"x":{"field":"b1","type":"quantitative","scale":{"domain":[-0.576,1.946],"nice":false,"zero":false},"axis":null},"x2":{"field":"b2"},"y":{"field":"p","type":"quantitative","scale":{"domain":[-3.77,4.87],"nice":false,"zero":false},"axis":null}}},
{"data":{"name":"box"},"mark":{"type":"rule","color":"black","strokeWidth":1.5},
"encoding":{"x":{"datum":0,"type":"quantitative"},"y":{"field":"lo","type":"quantitative"},"y2":{"field":"hi"}}},
{"data":{"name":"box"},"mark":{"type":"bar","size":24,"fill":"white","stroke":"black","strokeWidth":1.5},
"encoding":{"x":{"datum":0,"type":"quantitative"},"y":{"field":"q1","type":"quantitative"},"y2":{"field":"q3"}}},
{"data":{"name":"box"},"mark":{"type":"tick","orient":"horizontal","size":24,"thickness":1.8,"color":"#ff7f0e"},
"encoding":{"x":{"datum":0,"type":"quantitative"},"y":{"field":"md","type":"quantitative"}}},
{"data":{"name":"box"},"transform":[{"fold":["lo","hi"],"as":["k","cap"]}],"mark":{"type":"tick","orient":"horizontal","size":13,"thickness":1.5,"color":"black"},
"encoding":{"x":{"datum":0,"type":"quantitative"},"y":{"field":"cap","type":"quantitative"}}},
{"data":{"name":"bot"},
"transform":[
{"fold":["a","b","c","d","e","f","g","h","i","j","k","l","m","n","o","p","q","r","s","t","u","v","w","x","y","z","A","B","C","D"],"as":["m","v"]},
{"filter":"datum.day>=155 && datum.day<=185"},
{"window":[{"op":"row_number","as":"i"}]},
{"calculate":"(datum.i*0.7548776662+0.31)%1","as":"u1"},
{"calculate":"(datum.i*0.5698402910+0.17)%1","as":"u2"},
{"calculate":"1+max(-0.62,min(0.62,0.2*sqrt(-2*log(max(datum.u1,0.0005)))*cos(2*PI*datum.u2)))","as":"jx"}
],
"layer":[
{"mark":{"type":"point","filled":true,"size":24,"opacity":1,"color":"black"},
"encoding":{"x":{"field":"jx","type":"quantitative"},"y":{"field":"v","type":"quantitative"}}},
{"transform":[{"filter":"datum.day==170"}],"mark":{"type":"point","filled":true,"size":24,"opacity":1,"color":"#3182bd"},
"encoding":{"x":{"field":"jx","type":"quantitative"},"y":{"field":"v","type":"quantitative"}}}
]}
]
}
]
}
]
}
